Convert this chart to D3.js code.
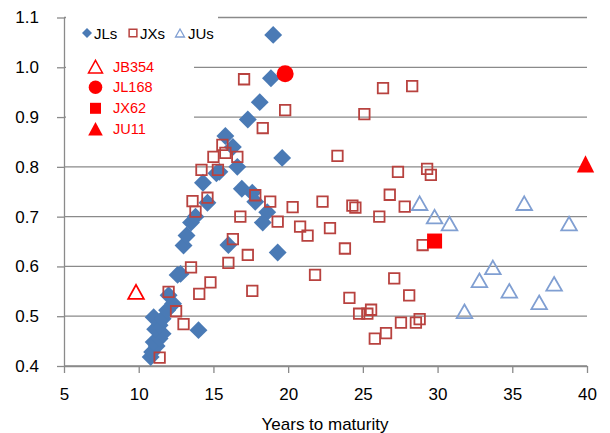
<!DOCTYPE html>
<html>
<head>
<meta charset="utf-8">
<script src="https://cdn.jsdelivr.net/npm/d3@7"></script>
<style>
  body { margin: 0; background: #fff; }
  text { font-family: "Liberation Sans", Arial, sans-serif; }
</style>
</head>
<body>
<div id="chart"></div>
<script>
// JLs
const jlYears = [10.8, 10.9, 11.2, 11.0, 11.4, 11.6, 11.1, 11.4, 11.0, 11.6, 11.9, 12.3, 12.0, 12.6, 12.8, 14.0,
  13.0, 13.2, 13.5, 13.8, 14.6, 14.3, 15.2, 15.4, 15.8, 16.3, 16.6, 16.9, 17.6, 17.8, 18.6, 18.3,
  16.0, 19.3, 19.6, 17.3, 18.1, 18.85, 19.0];
const jlYield = [0.418, 0.428, 0.44, 0.448, 0.455, 0.465, 0.474, 0.482, 0.498, 0.495, 0.512, 0.525, 0.542, 0.583, 0.585, 0.472,
  0.642, 0.662, 0.688, 0.70, 0.728, 0.768, 0.787, 0.79, 0.862, 0.84, 0.80, 0.756, 0.748, 0.73, 0.709, 0.688,
  0.643, 0.628, 0.818, 0.895, 0.93, 0.978, 1.065];

// JXs
const jxYears = [17.05, 19.8, 18.3, 15.6, 15.8, 15.0, 16.6, 14.2, 15.3, 17.8, 18.8, 20.3, 13.6, 14.6, 13.8,
  16.8, 19.3, 20.8, 21.3, 22.8, 16.3, 17.3, 16.0, 13.5, 14.05, 14.8, 17.6, 12.0, 12.5, 13.0, 11.4,
  21.8, 23.3, 22.3, 24.3, 24.5, 23.8, 25.1, 26.35, 28.3, 27.35, 29.3, 29.55, 26.8, 27.8, 26.1, 29.0,
  24.1, 27.1, 28.1, 24.75, 25.3, 25.55, 25.8, 26.55, 27.55, 28.55, 28.8];
const jxYield = [0.976, 0.914, 0.878, 0.844, 0.828, 0.82, 0.82, 0.794, 0.794, 0.743, 0.73, 0.719, 0.731, 0.738, 0.71,
  0.70, 0.69, 0.68, 0.662, 0.677, 0.655, 0.623, 0.607, 0.598, 0.545, 0.568, 0.551, 0.549, 0.51, 0.484, 0.417,
  0.583, 0.822, 0.73, 0.722, 0.718, 0.636, 0.906, 0.958, 0.962, 0.79, 0.796, 0.784, 0.744, 0.72, 0.70, 0.643,
  0.537, 0.576, 0.542, 0.505, 0.505, 0.513, 0.455, 0.466, 0.487, 0.487, 0.494];

// JUs
const juYears = [28.8, 29.8, 30.8, 31.8, 32.8, 33.7, 34.8, 35.8, 36.8, 37.8, 38.8];
const juYield = [0.727, 0.70, 0.686, 0.51, 0.572, 0.598, 0.551, 0.727, 0.528, 0.565, 0.686];

// highlighted bonds
const specialNames = ["JB354", "JL168", "JX62", "JU11"];
const specialYears = [9.82, 19.8, 29.8, 39.9];
const specialYield = [0.549, 0.987, 0.651, 0.806];

const xTicks = [5, 10, 15, 20, 25, 30, 35, 40];
const yTicks = [0.4, 0.5, 0.6, 0.7, 0.8, 0.9, 1.0, 1.1];

const width = 610, height = 433;
const gridColor = "#8a8a8a";
const jlColor = "#4a7ab5", jxColor = "#b8423f", juColor = "#809fd2", red = "#ff0000";

const svg = d3.select("#chart").append("svg")
    .attr("width", width)
    .attr("height", height);

const x = d3.scaleLinear().domain([5, 40]).range([64, 587]);
const y = d3.scaleLinear().domain([0.4, 1.1]).range([366, 17.5]);

// triangle path centred on its box
function tri(w, h) {
    return "M0," + (-h) + "L" + w + "," + h + "L" + (-w) + "," + h + "Z";
}

// horizontal grid
svg.append("g")
    .selectAll("line")
    .data(yTicks)
    .join("line")
    .attr("x1", x(5)).attr("x2", x(40))
    .attr("y1", d => y(d)).attr("y2", d => y(d))
    .attr("stroke", gridColor)
    .attr("stroke-width", 1.3);

// axes
const yAxis = d3.axisLeft(y).tickValues(yTicks).tickFormat(d3.format(".1f"))
    .tickSizeInner(7).tickSizeOuter(0).tickPadding(18);
const xAxis = d3.axisBottom(x).tickValues(xTicks).tickFormat(d3.format("d"))
    .tickSizeInner(7).tickSizeOuter(0).tickPadding(15);

const gy = svg.append("g").attr("transform", "translate(" + x(5) + ",0)").call(yAxis);
const gx = svg.append("g").attr("transform", "translate(0," + y(0.4) + ")").call(xAxis);
[gx, gy].forEach(g => {
    g.selectAll("path, line").attr("stroke", gridColor).attr("stroke-width", 1.3);
    g.selectAll("text").attr("fill", "#000").style("font-size", "17px")
        .style("font-family", "'Liberation Sans', Arial, sans-serif");
});

svg.append("text")
    .attr("x", 325).attr("y", 430)
    .attr("text-anchor", "middle")
    .style("font-size", "17px")
    .text("Years to maturity");

// legend backgrounds
svg.append("rect").attr("x", 66).attr("y", 8).attr("width", 152).attr("height", 42).attr("fill", "#fff");
svg.append("rect").attr("x", 66).attr("y", 52).attr("width", 128).attr("height", 92).attr("fill", "#fff");

// JLs diamonds
svg.append("g").selectAll("path")
    .data(d3.range(jlYears.length))
    .join("path")
    .attr("d", d3.symbol(d3.symbolSquare, 160))
    .attr("transform", i => "translate(" + x(jlYears[i]) + "," + y(jlYield[i]) + ") rotate(45)")
    .attr("fill", jlColor);

// JXs open squares
svg.append("g").selectAll("path")
    .data(d3.range(jxYears.length))
    .join("path")
    .attr("d", d3.symbol(d3.symbolSquare, 110))
    .attr("transform", i => "translate(" + x(jxYears[i]) + "," + y(jxYield[i]) + ")")
    .attr("fill", "none")
    .attr("stroke", jxColor)
    .attr("stroke-width", 1.8);

// JUs open triangles
svg.append("g").selectAll("path")
    .data(d3.range(juYears.length))
    .join("path")
    .attr("d", tri(7.8, 6.8))
    .attr("transform", i => "translate(" + x(juYears[i]) + "," + y(juYield[i]) + ")")
    .attr("fill", "none")
    .attr("stroke", juColor)
    .attr("stroke-width", 1.8);

// highlighted bonds
const sp = svg.append("g");
sp.append("path").attr("d", tri(7.8, 7))
    .attr("transform", "translate(" + x(specialYears[0]) + "," + y(specialYield[0]) + ")")
    .attr("fill", "none").attr("stroke", red).attr("stroke-width", 1.8);
sp.append("circle").attr("r", 8.5)
    .attr("cx", x(specialYears[1])).attr("cy", y(specialYield[1]))
    .attr("fill", red);
sp.append("path").attr("d", d3.symbol(d3.symbolSquare, 225))
    .attr("transform", "translate(" + x(specialYears[2]) + "," + y(specialYield[2]) + ")")
    .attr("fill", red);
sp.append("path").attr("d", tri(8.7, 8.6))
    .attr("transform", "translate(" + x(specialYears[3]) + "," + y(specialYield[3]) + ")")
    .attr("fill", red);

// legend 1
const lg = svg.append("g").style("font-size", "15px");
lg.append("path").attr("d", d3.symbol(d3.symbolSquare, 50))
    .attr("transform", "translate(87,33) rotate(45)").attr("fill", jlColor);
lg.append("path").attr("d", d3.symbol(d3.symbolSquare, 60))
    .attr("transform", "translate(133,33)").attr("fill", "none").attr("stroke", jxColor).attr("stroke-width", 1.5);
lg.append("path").attr("d", tri(4.5, 4))
    .attr("transform", "translate(180,33)").attr("fill", "none").attr("stroke", juColor).attr("stroke-width", 1.3);
lg.selectAll("text")
    .data([["JLs", 94], ["JXs", 140], ["JUs", 188]])
    .join("text")
    .attr("x", d => d[1]).attr("y", 38.5)
    .text(d => d[0]);

// legend 2
const lg2 = svg.append("g");
const rowY = [66.7, 87.3, 108.3, 128.7];
lg2.append("path").attr("d", tri(7, 6.3)).attr("transform", "translate(95.5," + rowY[0] + ")")
    .attr("fill", "none").attr("stroke", red).attr("stroke-width", 1.5);
lg2.append("circle").attr("cx", 95.5).attr("cy", rowY[1]).attr("r", 6.8).attr("fill", red);
lg2.append("path").attr("d", d3.symbol(d3.symbolSquare, 121)).attr("transform", "translate(95.5," + rowY[2] + ")")
    .attr("fill", red);
lg2.append("path").attr("d", tri(7.3, 6.8)).attr("transform", "translate(95.5," + rowY[3] + ")")
    .attr("fill", red);
lg2.selectAll("text")
    .data(specialNames)
    .join("text")
    .attr("x", 113)
    .attr("y", (d, i) => rowY[i] + 5)
    .attr("fill", red)
    .style("font-size", "14.5px")
    .text(d => d);
</script>
</body>
</html>
